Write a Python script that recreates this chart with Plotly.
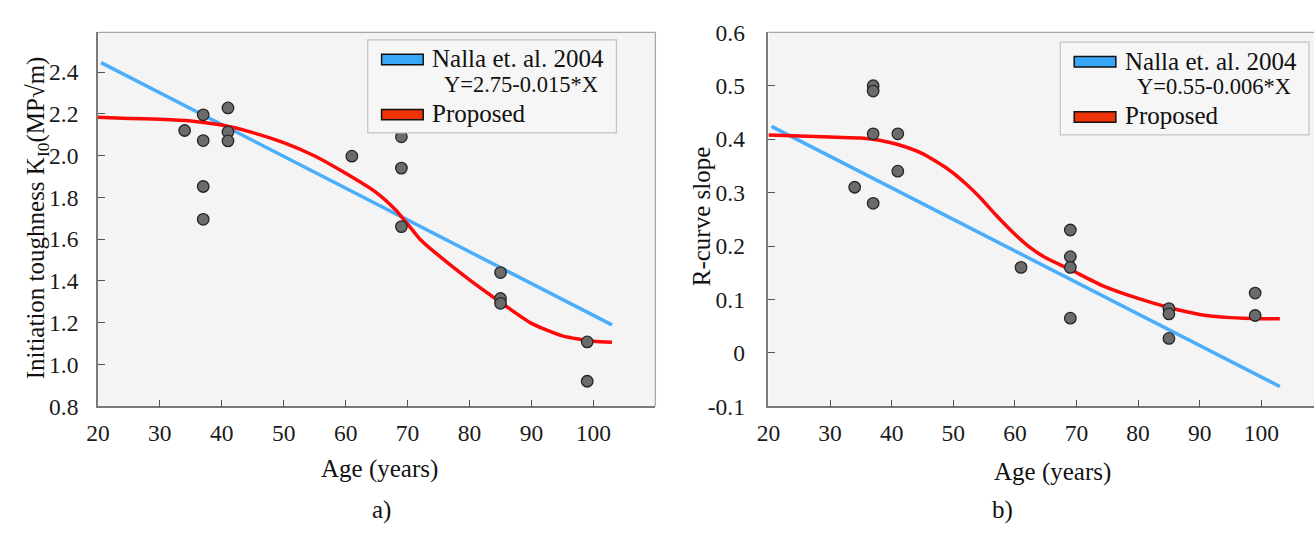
import plotly.graph_objects as go

W, H = 1314, 535
FONT = "Liberation Serif"

# ---------------- data: panel a) ----------------
age_a = [34, 37, 37, 37, 37, 41, 41, 41, 61, 69, 69, 69, 85, 85, 85, 99, 99]
k_a = [2.12, 2.195, 2.072, 1.852, 1.695, 2.228, 2.113, 2.07, 1.997,
       2.09, 1.94, 1.66, 1.44, 1.316, 1.293, 1.108, 0.92]
nalla_a_x = [20.5, 103]
nalla_a_y = [2.445, 1.19]
prop_a_x = [20, 25, 30, 35, 40, 45, 50, 55, 60, 65, 68, 70, 72, 75, 80, 85, 90, 95, 100, 103]
prop_a_y = [2.183, 2.178, 2.174, 2.166, 2.146, 2.11, 2.062, 1.998, 1.915, 1.822, 1.742,
            1.672, 1.6, 1.522, 1.405, 1.298, 1.197, 1.137, 1.111, 1.107]

# ---------------- data: panel b) ----------------
age_b = [34, 37, 37, 37, 37, 41, 41, 61, 69, 69, 69, 69, 85, 85, 85, 99, 99]
r_b = [0.31, 0.50, 0.49, 0.41, 0.28, 0.41, 0.34, 0.16, 0.23, 0.18, 0.16, 0.065,
       0.083, 0.073, 0.027, 0.112, 0.07]
nalla_b_x = [20.5, 103]
nalla_b_y = [0.424, -0.063]
prop_b_x = [20, 25, 30, 35, 38, 41, 45, 49, 52, 54.5, 57, 60, 62.5, 65, 69, 74, 80, 85, 90, 95, 100, 103]
prop_b_y = [0.408, 0.406, 0.404, 0.402, 0.398, 0.39, 0.373, 0.345, 0.317, 0.289, 0.257, 0.222,
            0.197, 0.178, 0.156, 0.127, 0.102, 0.085, 0.072, 0.066, 0.064, 0.064]

legend_a = ["Nalla et. al. 2004", "Y=2.75-0.015*X", "Proposed"]
legend_b = ["Nalla et. al. 2004", "Y=0.55-0.006*X", "Proposed"]

BLUE = "#4aaefc"
RED = "#ff0a0a"
SW_BLUE = "#39a7f7"
SW_RED = "#ee3308"

# pixel geometry
def px(x):
    return x / W
def py(y):
    return 1 - y / H

PLOT_TOP, PLOT_BOT = 20.3, 413.4
A_L, A_R = 86.7, 649.3
B_L, B_R = 763.4, 1314

fig = go.Figure()

marker = dict(size=11.5, color="#6b6b6b", line=dict(color="#262626", width=1.3))

for xa, ya, nx, ny, prx, pry, ax in [
    (age_a, k_a, nalla_a_x, nalla_a_y, prop_a_x, prop_a_y, ("x", "y")),
    (age_b, r_b, nalla_b_x, nalla_b_y, prop_b_x, prop_b_y, ("x2", "y2")),
]:
    fig.add_trace(go.Scatter(x=nx, y=ny, mode="lines", line=dict(color=BLUE, width=3.5),
                             xaxis=ax[0], yaxis=ax[1], showlegend=False, hoverinfo="skip"))
    fig.add_trace(go.Scatter(x=prx, y=pry, mode="lines",
                             line=dict(color=RED, width=3.5, shape="spline", smoothing=0.6),
                             xaxis=ax[0], yaxis=ax[1], showlegend=False, hoverinfo="skip"))
    fig.add_trace(go.Scatter(x=xa, y=ya, mode="markers", marker=marker,
                             xaxis=ax[0], yaxis=ax[1], showlegend=False))

tickfont = dict(family=FONT, size=23.5, color="#1a1a1a")
ydom = [py(PLOT_BOT), py(PLOT_TOP)]
common_x = dict(ticks="inside", ticklen=7, tickcolor="#555", tickwidth=1.3, showgrid=False,
                zeroline=False, showline=True, linecolor="#7a7a7a", linewidth=1.5,
                tickfont=tickfont, tickvals=[20, 30, 40, 50, 60, 70, 80, 90, 100],
                ticklabelstandoff=5)
common_y = dict(ticks="inside", ticklen=7, tickcolor="#555", tickwidth=1.3, showgrid=False,
                zeroline=False, showline=True, linecolor="#7a7a7a", linewidth=1.5,
                tickfont=tickfont, domain=ydom)

fig.update_layout(
    width=W, height=H,
    margin=dict(l=0, r=0, t=0, b=0),
    paper_bgcolor="white", plot_bgcolor="#f4f4f4",
    xaxis=dict(common_x, domain=[px(A_L), px(A_R)], range=[20, 110], anchor="y"),
    yaxis=dict(common_y, range=[0.8, 2.59], anchor="x",
               tickvals=[0.8, 1.0, 1.2, 1.4, 1.6, 1.8, 2.0, 2.2, 2.4],
               ticktext=["0.8", "1.0", "1.2", "1.4", "1.6", "1.8", "2.0", "2.2", "2.4"],
               ticklabelstandoff=13),
    xaxis2=dict(common_x, domain=[px(B_L), 1.0], range=[20, 108.55], anchor="y2"),
    yaxis2=dict(common_y, range=[-0.1, 0.6], anchor="x2",
                tickvals=[-0.1, 0, 0.1, 0.2, 0.3, 0.4, 0.5, 0.6],
                ticktext=["-0.1", "0", "0.1", "0.2", "0.3", "0.4", "0.5", "0.6"],
                ticklabelstandoff=17),
)

shapes = []
# light frame (top / right)
shapes.append(dict(type="line", xref="paper", yref="paper", x0=px(A_L), x1=px(A_R),
                   y0=py(PLOT_TOP), y1=py(PLOT_TOP), line=dict(color="#a8a8a8", width=1.3)))
shapes.append(dict(type="line", xref="paper", yref="paper", x0=px(A_R), x1=px(A_R),
                   y0=py(PLOT_TOP), y1=py(PLOT_BOT), line=dict(color="#a8a8a8", width=1.3)))
shapes.append(dict(type="line", xref="paper", yref="paper", x0=px(B_L), x1=1.0,
                   y0=py(PLOT_TOP), y1=py(PLOT_TOP), line=dict(color="#a8a8a8", width=1.3)))

annotations = []
txt = dict(family=FONT, size=25, color="#111")
txt_small = dict(family=FONT, size=22.5, color="#111")

def legend(box_l, box_t, box_r, box_b, labels):
    shapes.append(dict(type="rect", xref="paper", yref="paper", x0=px(box_l), x1=px(box_r),
                       y0=py(box_b), y1=py(box_t), line=dict(color="#c4c4c4", width=1.2),
                       fillcolor="#f6f6f6", layer="above"))
    sl = box_l + 14
    for (ty, col) in [(box_t + 15, SW_BLUE), (box_t + 73, SW_RED)]:
        shapes.append(dict(type="rect", xref="paper", yref="paper", x0=px(sl), x1=px(sl + 42),
                           y0=py(ty + 11), y1=py(ty), line=dict(color="#111", width=1.5),
                           fillcolor=col, layer="above"))
    annotations.append(dict(xref="paper", yref="paper", x=px(sl + 49), y=py(box_t + 20),
                            text=labels[0], showarrow=False, xanchor="left", yanchor="middle",
                            font=txt))
    annotations.append(dict(xref="paper", yref="paper", x=px(sl + 61), y=py(box_t + 47),
                            text=labels[1], showarrow=False, xanchor="left", yanchor="middle",
                            font=txt_small))
    annotations.append(dict(xref="paper", yref="paper", x=px(sl + 49), y=py(box_t + 77),
                            text=labels[2], showarrow=False, xanchor="left", yanchor="middle",
                            font=txt))

legend(359, 28.3, 610, 126, legend_a)
legend(1058, 30.7, 1309, 128, legend_b)

# axis titles and panel labels
annotations += [
    dict(xref="paper", yref="paper", x=px(26), y=py(215), textangle=-90,
         text="Initiation toughness K<sub>I0</sub>(MP√m)", showarrow=False, font=txt,
         xanchor="center", yanchor="middle"),
    dict(xref="paper", yref="paper", x=px(696), y=py(214), textangle=-90,
         text="R-curve slope", showarrow=False, font=txt, xanchor="center", yanchor="middle"),
    dict(xref="paper", yref="paper", x=px(371), y=py(479), text="Age (years)",
         showarrow=False, font=txt, xanchor="center", yanchor="middle"),
    dict(xref="paper", yref="paper", x=px(1050), y=py(482), text="Age (years)",
         showarrow=False, font=txt, xanchor="center", yanchor="middle"),
    dict(xref="paper", yref="paper", x=px(373), y=py(522), text="a)",
         showarrow=False, font=txt, xanchor="center", yanchor="middle"),
    dict(xref="paper", yref="paper", x=px(1000), y=py(522), text="b)",
         showarrow=False, font=txt, xanchor="center", yanchor="middle"),
]

fig.update_layout(shapes=shapes, annotations=annotations)
fig.write_html("out.html")
